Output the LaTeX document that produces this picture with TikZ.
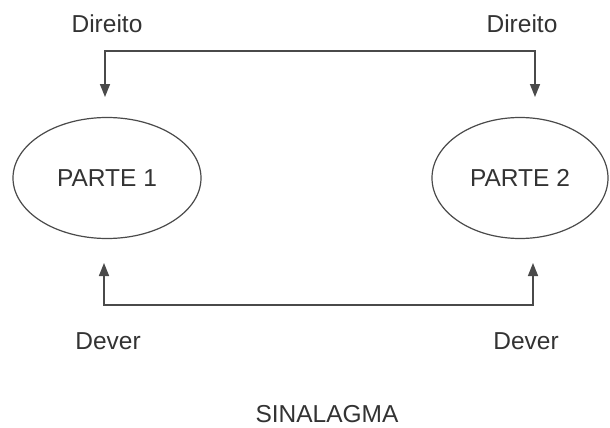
\documentclass[tikz,border=0pt]{standalone}
\usepackage{fontspec}
\setmainfont{Liberation Sans}
\usetikzlibrary{shapes.geometric,arrows.meta}
\definecolor{ink}{HTML}{333333}
\definecolor{lineink}{HTML}{4A4A4A}
\begin{document}
\begin{tikzpicture}[x=1pt,y=1pt,
  lbl/.style={font=\fontsize{24.5}{28}\selectfont, text=ink, inner sep=0pt},
  party/.style={ellipse, draw=lineink, line width=1.2pt, minimum height=121pt, font=\fontsize{24.5}{28}\selectfont, text=ink},
  conn/.style={draw=lineink, line width=1.5pt, {Triangle[length=13pt,width=10pt]}-{Triangle[length=13pt,width=10pt]}}]
\useasboundingbox (0,0) rectangle (610,-428);
\node[party, minimum width=188pt] (p1) at (107,-178) {PARTE 1};
\node[party, minimum width=176pt] (p2) at (520,-178) {PARTE 2};
\node[lbl] (d1) at (107,-24) {Direito};
\node[lbl] (d2) at (522,-24) {Direito};
\node[lbl] (v1) at (108,-341) {Dever};
\node[lbl] (v2) at (526,-341) {Dever};
\node[lbl] (s) at (327,-414) {SINALAGMA};
\coordinate (t1) at (105,-97);
\coordinate (t2) at (535,-97);
\coordinate (b1) at (104,-263);
\coordinate (b2) at (533,-263);
\draw[conn] (t1) -- (105,-51) -- (535,-51) -- (t2);
\draw[conn] (b1) -- (104,-305) -- (533,-305) -- (b2);
\end{tikzpicture}
\end{document}
